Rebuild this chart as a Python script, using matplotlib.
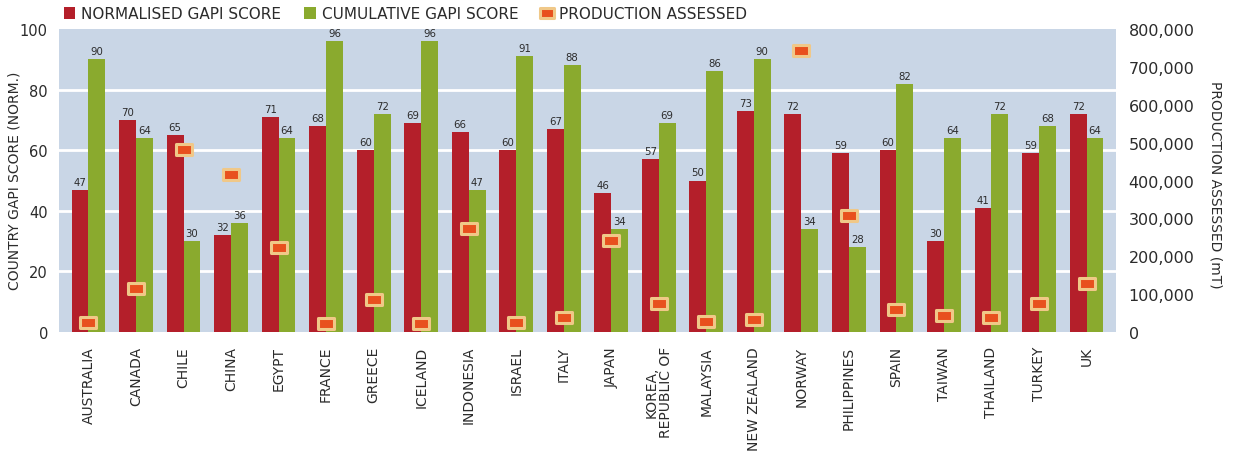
import matplotlib
matplotlib.use("Agg")
import matplotlib.pyplot as plt
import numpy as np
from matplotlib.path import Path
from matplotlib.lines import Line2D
from matplotlib.patches import Patch

countries = ["AUSTRALIA", "CANADA", "CHILE", "CHINA", "EGYPT", "FRANCE", "GREECE",
             "ICELAND", "INDONESIA", "ISRAEL", "ITALY", "JAPAN", "KOREA,\nREPUBLIC OF",
             "MALAYSIA", "NEW ZEALAND", "NORWAY", "PHILIPPINES", "SPAIN", "TAIWAN",
             "THAILAND", "TURKEY", "UK"]
normalised = [47, 70, 65, 32, 71, 68, 60, 69, 66, 60, 67, 46, 57, 50, 73, 72, 59, 60, 30, 41, 59, 72]
cumulative = [90, 64, 30, 36, 64, 96, 72, 96, 47, 91, 88, 34, 69, 86, 90, 34, 28, 82, 64, 72, 68, 64]
production = [26000, 116000, 483000, 417000, 224000, 24000, 87000, 24000, 275000, 26000,
              40000, 243000, 77000, 29000, 34000, 745000, 309000, 61000, 45000, 40000,
              77000, 129000]
left_ticks = [0, 20, 40, 60, 80, 100]
right_ticks = [0, 100000, 200000, 300000, 400000, 500000, 600000, 700000, 800000]

RED = "#B41F2A"
GREEN = "#8AAA2E"
BG = "#C9D6E6"
ORANGE = "#E8501E"
TAN = "#F0C888"
TXT = "#2b2b2b"

plt.rcParams['font.family'] = ['DejaVu Sans']

W, H = 1233, 460
fig = plt.figure(figsize=(W/100, H/100), dpi=100)
ax = fig.add_axes([59/W, 127/H, (1116-59)/W, (333-30)/H])
ax.set_facecolor(BG)
x = np.arange(len(countries))
w = 0.355
b1 = ax.bar(x - w/2, normalised, w, color=RED, zorder=2)
b2 = ax.bar(x + w/2, cumulative, w, color=GREEN, zorder=2)
for rect, v in zip(b1, normalised):
    ax.text(rect.get_x() + rect.get_width()/2, v + 1.0, str(v), ha='center', va='bottom',
            fontsize=7.3, color=TXT, zorder=3)
for rect, v in zip(b2, cumulative):
    ax.text(rect.get_x() + rect.get_width()/2, v + 1.0, str(v), ha='center', va='bottom',
            fontsize=7.3, color=TXT, zorder=3)
ax.set_xlim(-0.62, len(countries) - 0.38)
ax.set_ylim(0, 100)
ax.set_yticks(left_ticks)
ax.set_yticklabels([str(t) for t in left_ticks], fontsize=10.5, color=TXT)
for g in [20, 40, 60, 80]:
    ax.axhline(g, color='white', lw=2, zorder=1)
ax.set_xticks(x)
ax.set_xticklabels(countries, rotation=90, fontsize=10, color=TXT, linespacing=1.0)
ax.tick_params(axis='both', length=0)
ax.tick_params(axis='x', pad=10)
ax.tick_params(axis='y', pad=8)
for s in ax.spines.values():
    s.set_visible(False)
fig.text(15/W, 1 - 181/H, "COUNTRY GAPI SCORE (NORM.)", rotation=90, ha='center', va='center',
         fontsize=10, color=TXT)

rect_marker = Path([(-1, -0.72), (1, -0.72), (1, 0.72), (-1, 0.72), (-1, -0.72)],
                   [Path.MOVETO, Path.LINETO, Path.LINETO, Path.LINETO, Path.CLOSEPOLY])
ax2 = ax.twinx()
ax2.set_ylim(0, 800000)
ax2.plot(x, production, linestyle='none', marker=rect_marker, markersize=11,
         markerfacecolor=ORANGE, markeredgecolor=TAN, markeredgewidth=2.2, zorder=5)
ax2.set_yticks(right_ticks)
ax2.set_yticklabels([f"{t:,}" for t in right_ticks], fontsize=11.5, color=TXT)
ax2.tick_params(axis='y', length=0, pad=9)
for s in ax2.spines.values():
    s.set_visible(False)
fig.text(1215/W, 1 - 185/H, "PRODUCTION ASSESSED (mT)", rotation=-90, ha='center', va='center',
         fontsize=10, color=TXT)

handles = [Patch(facecolor=RED), Patch(facecolor=GREEN),
           Line2D([], [], linestyle='none', marker=rect_marker, markersize=10,
                  markerfacecolor=ORANGE, markeredgecolor=TAN, markeredgewidth=2.2)]
labels = ["NORMALISED GAPI SCORE", "CUMULATIVE GAPI SCORE", "PRODUCTION ASSESSED"]
fig.legend(handles, labels, loc='upper left', bbox_to_anchor=(50/W, 1.014), ncol=3,
           frameon=False, fontsize=11, handlelength=0.75, handleheight=0.75,
           handletextpad=0.4, columnspacing=1.5, labelcolor=TXT)

fig.savefig("out.png", dpi=100)
